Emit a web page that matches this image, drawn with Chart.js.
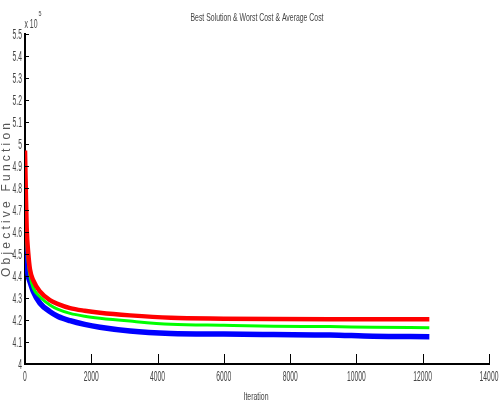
<!DOCTYPE html>
<html>
<head>
<meta charset="utf-8">
<script src="https://cdn.jsdelivr.net/npm/chart.js@4"></script>
<style>
html,body{margin:0;padding:0;background:#fff;}
#wrap{width:500px;height:405px;position:relative;}
</style>
</head>
<body>
<div id="wrap"><canvas id="c" width="500" height="405"></canvas></div>
<script>
// Data (objective values in units of 10^5)
const iterations = [0, 25, 50, 100, 150, 250, 450, 750, 1000, 1360, 1800, 2260, 3170, 4400, 6000, 7500, 9200, 10500, 12200];
const worstCost = [4.97, 4.78, 4.62, 4.50, 4.43, 4.38, 4.33, 4.29, 4.272, 4.254, 4.242, 4.233, 4.221, 4.210, 4.206, 4.204, 4.203, 4.203, 4.203];
const averageCost = [4.90, 4.72, 4.57, 4.46, 4.40, 4.345, 4.306, 4.268, 4.248, 4.230, 4.217, 4.208, 4.195, 4.181, 4.176, 4.172, 4.170, 4.167, 4.165];
const bestSolution = [4.62, 4.53, 4.46, 4.40, 4.374, 4.33, 4.277, 4.238, 4.216, 4.197, 4.180, 4.167, 4.150, 4.139, 4.136, 4.134, 4.132, 4.126, 4.124];
const xTicks = [0, 2000, 4000, 6000, 8000, 10000, 12000, 14000];
const yTicks = [4, 4.1, 4.2, 4.3, 4.4, 4.5, 4.6, 4.7, 4.8, 4.9, 5, 5.1, 5.2, 5.3, 5.4, 5.5];
const titleText = 'Best Solution & Worst Cost & Average Cost';
const xLabel = 'Iteration';
const yLabel = 'Objective Function';
const exponentText = '5';

const toPts = (ys) => iterations.map((x, i) => ({x: x, y: ys[i]}));
const SANS = '"Liberation Sans", Arial, sans-serif';

function drawScaled(ctx, text, x, y, sx, font, align) {
  ctx.save();
  ctx.font = font;
  ctx.translate(x, y);
  ctx.scale(sx, 1);
  ctx.textAlign = align || 'center';
  ctx.textBaseline = 'middle';
  ctx.fillText(text, 0, 0);
  ctx.restore();
}
function drawFitted(ctx, text, cx, cy, targetW, font) {
  ctx.save();
  ctx.font = font;
  const w = ctx.measureText(text).width;
  ctx.restore();
  drawScaled(ctx, text, cx, cy, targetW / w, font, 'center');
}

const decor = {
  id: 'decor',
  afterDraw(chart) {
    const ctx = chart.ctx;
    const xs = chart.scales.x, ys = chart.scales.y;
    const ca = chart.chartArea;
    ctx.save();
    ctx.strokeStyle = '#000';
    ctx.lineWidth = 1;
    // inward ticks
    xTicks.forEach(v => {
      if (v === 0) return;
      const px = Math.round(xs.getPixelForValue(v)) + 0.5;
      ctx.beginPath(); ctx.moveTo(px, ca.bottom); ctx.lineTo(px, ca.bottom - 10); ctx.stroke();
    });
    yTicks.forEach(v => {
      const py = Math.round(ys.getPixelForValue(v)) + 0.5;
      ctx.beginPath(); ctx.moveTo(ca.left, py); ctx.lineTo(ca.left + 4, py); ctx.stroke();
    });
    ctx.fillStyle = '#444';
    // tick labels
    xTicks.forEach(v => {
      drawScaled(ctx, String(v), xs.getPixelForValue(v), ca.bottom + 13, 0.45, '15px ' + SANS, 'center');
    });
    yTicks.forEach(v => {
      drawScaled(ctx, String(Math.round(v * 10) / 10), ca.left - 3, ys.getPixelForValue(v) + 1, 0.45, '15px ' + SANS, 'right');
    });
    // title
    drawFitted(ctx, titleText, 257, 18, 133, '11px ' + SANS);
    // x label
    drawFitted(ctx, xLabel, 256, 397, 25, '11px ' + SANS);
    // exponent
    drawFitted(ctx, 'x 10', 31, 25, 13, '12px ' + SANS);
    drawFitted(ctx, exponentText, 40, 14, 3, '8px ' + SANS);
    // y label, letter-spaced, rotated
    ctx.save();
    ctx.fillStyle = '#555';
    ctx.font = '12px ' + SANS;
    const chars = yLabel.split('');
    const widths = chars.map(c => ctx.measureText(c).width);
    const base = widths.reduce((a, b) => a + b, 0);
    const total = 154;
    const gap = (total - base) / (chars.length - 1);
    ctx.translate(7, 200);
    ctx.rotate(-Math.PI / 2);
    ctx.textAlign = 'left';
    ctx.textBaseline = 'middle';
    let pos = -total / 2;
    chars.forEach((c, i) => { ctx.fillText(c, pos, 0); pos += widths[i] + gap; });
    ctx.restore();
    ctx.restore();
  }
};

new Chart(document.getElementById('c'), {
  type: 'line',
  data: {
    datasets: [
      {label: 'Worst Cost', data: toPts(worstCost), borderColor: '#ff0000', borderWidth: 4.5},
      {label: 'Average Cost', data: toPts(averageCost), borderColor: '#00ff00', borderWidth: 3},
      {label: 'Best Solution', data: toPts(bestSolution), borderColor: '#0000ff', borderWidth: 5.5}
    ]
  },
  options: {
    responsive: false,
    animation: false,
    devicePixelRatio: 1,
    layout: {padding: {top: 34, right: 11, left: 0, bottom: 0}},
    elements: {
      point: {radius: 0},
      line: {cubicInterpolationMode: 'monotone', borderCapStyle: 'butt'}
    },
    plugins: {legend: {display: false}, title: {display: false}, tooltip: {enabled: false}},
    scales: {
      x: {
        type: 'linear', min: 0, max: 14000,
        afterFit: (s) => { s.height = 41; },
        afterBuildTicks: (s) => { s.ticks = xTicks.map(v => ({value: v})); },
        grid: {display: false},
        border: {display: true, color: '#000', width: 2},
        ticks: {display: false}
      },
      y: {
        type: 'linear', min: 4, max: 5.5,
        afterFit: (s) => { s.width = 25; },
        afterBuildTicks: (s) => { s.ticks = yTicks.map(v => ({value: v})); },
        grid: {display: false},
        border: {display: true, color: '#000', width: 2},
        ticks: {display: false}
      }
    }
  },
  plugins: [decor]
});
</script>
</body>
</html>
